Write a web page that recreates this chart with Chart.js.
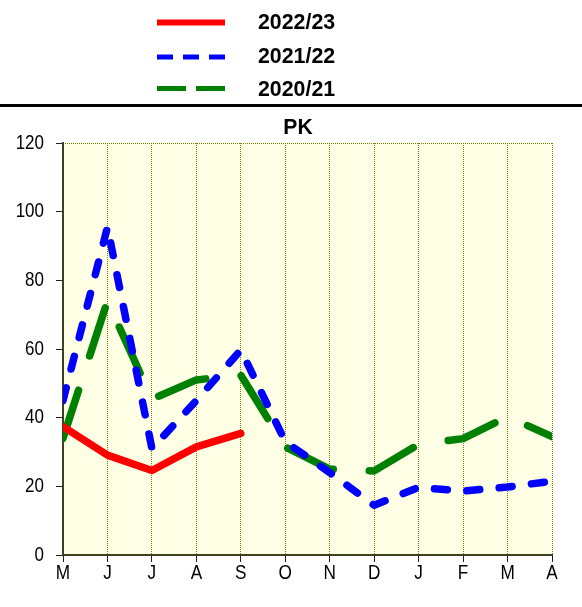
<!DOCTYPE html>
<html><head><meta charset="utf-8">
<script src="https://cdn.jsdelivr.net/npm/chart.js@4.4.1/dist/chart.umd.min.js"></script>
<style>html,body{margin:0;padding:0;background:#fff;overflow:hidden}canvas{display:block}</style>
</head><body>
<canvas id="c" width="582" height="607"></canvas>
<script>
// ---- data ----
const months = ['M','J','J','A','S','O','N','D','J','F','M','A'];
const yTicks = [0, 20, 40, 60, 80, 100, 120];
const chartTitle = 'PK';
const seriesNames = ['2022/23', '2021/22', '2020/21'];
const s2022 = [37.4, 29.1, 24.6, 31.5, 35.4, null, null, null, null, null, null, null];
const s2021 = [45, 95.5, 31, 45, 59.7, 33, 24, 14.5, 19.7, 18.6, 19.8, 21.5];
const s2020 = [34, 74, 45.4, 51, 52.4, 31.5, 25, 24.5, 32.2, 33.9, 40.3, 34.5];

// ---- styles ----
const colors = ['#ff0000', '#0000ff', '#008000'];
const lineDashes = [[], [13, 19.5], [50.5, 36]];
const legendDashes = [[], [16, 10], [29, 10]];
const FONT = '"Liberation Sans", Arial, sans-serif';

function condensedText(ctx, text, x, y, font, sx, align) {
  ctx.save();
  ctx.font = font;
  ctx.fillStyle = '#000';
  ctx.textAlign = align;
  ctx.textBaseline = 'middle';
  ctx.translate(x, y);
  ctx.scale(sx, 1);
  ctx.fillText(text, 0, 0);
  ctx.restore();
}

const decor = {
  id: 'decor',
  beforeDraw(chart) {
    const {ctx, chartArea: a} = chart;
    ctx.save();
    ctx.fillStyle = '#FFFFE5';
    ctx.fillRect(a.left, a.top, a.right - a.left, a.bottom - a.top);
    ctx.strokeStyle = '#808000';
    ctx.lineWidth = 1;
    ctx.setLineDash([1, 1]);
    ctx.beginPath();
    ctx.moveTo(a.left, Math.round(a.top) + 0.5);
    ctx.lineTo(a.right, Math.round(a.top) + 0.5);
    ctx.stroke();
    ctx.restore();
  },
  afterDraw(chart) {
    const {ctx} = chart;
    const xs = chart.scales.x, ys = chart.scales.y;
    yTicks.forEach(v => {
      condensedText(ctx, String(v), 44, ys.getPixelForValue(v), '20px ' + FONT, 0.85, 'right');
    });
    months.forEach((m, i) => {
      condensedText(ctx, m, xs.getPixelForValue(i), 573.5, '20px ' + FONT, 0.86, 'center');
    });
    condensedText(ctx, chartTitle, 298, 127.5, 'bold 22px ' + FONT, 0.96, 'center');
    const rowsY = [22.5, 57, 88.5];
    const textY = [23, 57, 90];
    seriesNames.forEach((n, i) => {
      ctx.save();
      ctx.strokeStyle = colors[i];
      ctx.lineWidth = i === 0 ? 6 : 5;
      ctx.lineCap = 'butt';
      ctx.setLineDash(legendDashes[i]);
      ctx.beginPath();
      ctx.moveTo(157, rowsY[i]);
      ctx.lineTo(225, rowsY[i]);
      ctx.stroke();
      ctx.restore();
      condensedText(ctx, n, 258, textY[i], 'bold 22px ' + FONT, 0.97, 'left');
    });
    ctx.save();
    ctx.fillStyle = '#000';
    ctx.fillRect(0, 104, 582, 3);
    ctx.restore();
  }
};

const datasets = [s2022, s2021, s2020].map((d, i) => ({
  label: seriesNames[i],
  data: d,
  borderColor: colors[i],
  backgroundColor: colors[i],
  borderWidth: 7.5,
  borderDash: lineDashes[i],
  borderDashOffset: 0,
  borderCapStyle: 'round',
  borderJoinStyle: 'round',
  pointRadius: 0,
  pointHoverRadius: 0,
  tension: 0,
  fill: false,
  spanGaps: false,
  clip: 0,
  order: i
}));

new Chart(document.getElementById('c'), {
  type: 'line',
  data: { labels: months, datasets },
  options: {
    responsive: false,
    devicePixelRatio: 1,
    animation: false,
    events: [],
    layout: { padding: { left: 0, right: 30, top: 143, bottom: 0 } },
    plugins: { legend: { display: false }, title: { display: false }, tooltip: { enabled: false } },
    scales: {
      x: {
        type: 'category',
        offset: false,
        afterFit(s) { s.height = 52; },
        grid: {
          display: true, drawOnChartArea: true, drawTicks: true,
          color: '#808000', lineWidth: 1, tickLength: 7, tickColor: '#202020', tickWidth: 1,
          tickBorderDash: []
        },
        border: { display: true, color: '#404020', width: 2, dash: [1, 1] },
        ticks: { color: 'rgba(0,0,0,0)', font: { size: 10 }, autoSkip: false, maxRotation: 0, minRotation: 0 }
      },
      y: {
        min: 0, max: 120,
        afterFit(s) { s.width = 63; },
        grid: { display: true, drawOnChartArea: false, drawTicks: true, tickLength: 7, tickColor: '#202020', color: '#202020' },
        border: { display: true, color: '#404020', width: 2 },
        ticks: { stepSize: 20, color: 'rgba(0,0,0,0)', font: { size: 10 } }
      }
    }
  },
  plugins: [decor]
});
</script>
</body></html>
